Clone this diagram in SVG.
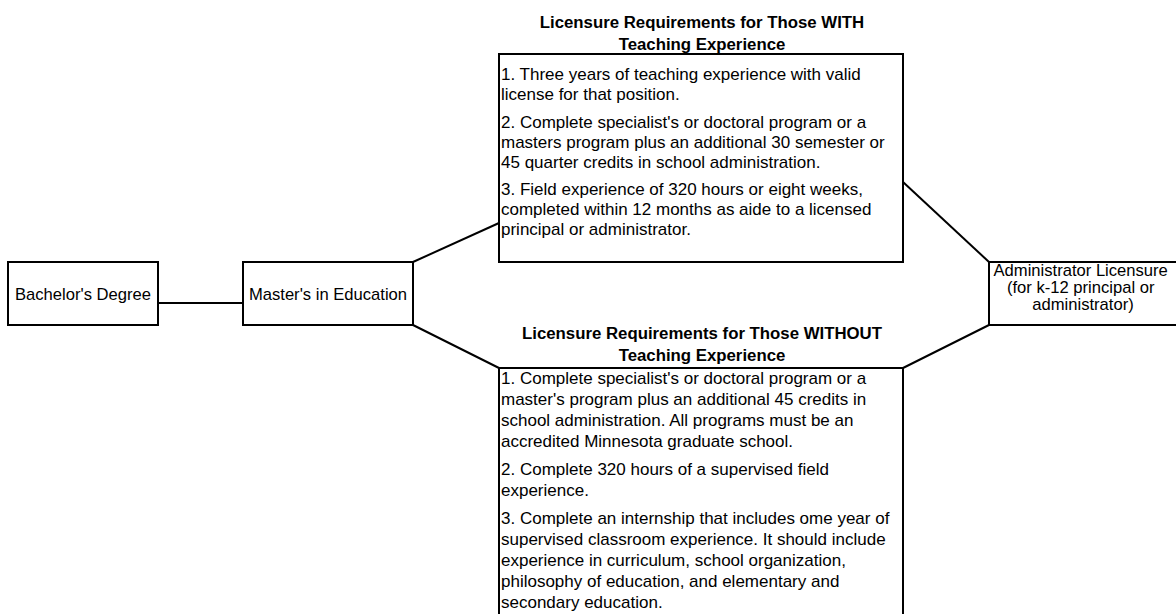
<svg xmlns="http://www.w3.org/2000/svg" width="1176" height="614" viewBox="0 0 1176 614">
  <style>
    .box { fill: #ffffff; stroke: #000000; stroke-width: 2; }
    .link { stroke: #000000; stroke-width: 2; fill: none; }
    text { font-family: "Liberation Sans", Arial, sans-serif; fill: #000000; }
    .label { font-size: 16.6px; }
    .body { font-size: 17px; }
    .mid { text-anchor: middle; }
    .title { font-size: 16.8px; font-weight: bold; text-anchor: middle; }
  </style>
  <rect width="1176" height="614" fill="#ffffff"/>

  <!-- connectors -->
  <g id="connectors">
    <line class="link" x1="158" y1="303" x2="243" y2="303"/>
    <line class="link" x1="413" y1="262" x2="499" y2="223"/>
    <line class="link" x1="413" y1="325" x2="499" y2="368"/>
    <line class="link" x1="903" y1="182" x2="989" y2="262"/>
    <line class="link" x1="989" y1="325" x2="903" y2="368"/>
  </g>

  <g id="bachelors">
    <rect class="box" x="8" y="262" width="150" height="63"/>
    <text class="label mid" x="83" y="300">Bachelor's Degree</text>
  </g>

  <g id="masters">
    <rect class="box" x="243" y="262" width="170" height="63"/>
    <text class="label mid" x="328" y="300">Master's in Education</text>
  </g>

  <g id="with-experience">
    <text class="title" x="702" y="28">Licensure Requirements for Those WITH</text>
    <text class="title" x="702" y="50">Teaching Experience</text>
    <rect class="box" x="499" y="54" width="404" height="208"/>
    <text class="body">
      <tspan x="501" y="80">1. Three years of teaching experience with valid</tspan>
      <tspan x="501" y="100">license for that position.</tspan>
      <tspan x="501" y="128">2. Complete specialist's or doctoral program or a</tspan>
      <tspan x="501" y="148">masters program plus an additional 30 semester or</tspan>
      <tspan x="501" y="168">45 quarter credits in school administration.</tspan>
      <tspan x="501" y="195">3. Field experience of 320 hours or eight weeks,</tspan>
      <tspan x="501" y="215">completed within 12 months as aide to a licensed</tspan>
      <tspan x="501" y="235">principal or administrator.</tspan>
    </text>
  </g>

  <g id="without-experience">
    <text class="title" x="702" y="339">Licensure Requirements for Those WITHOUT</text>
    <text class="title" x="702" y="361">Teaching Experience</text>
    <rect class="box" x="499" y="368" width="404" height="260"/>
    <text class="body">
      <tspan x="501" y="384">1. Complete specialist's or doctoral program or a</tspan>
      <tspan x="501" y="405">master's program plus an additional 45 credits in</tspan>
      <tspan x="501" y="426">school administration. All programs must be an</tspan>
      <tspan x="501" y="447">accredited Minnesota graduate school.</tspan>
      <tspan x="501" y="475">2. Complete 320 hours of a supervised field</tspan>
      <tspan x="501" y="496">experience.</tspan>
      <tspan x="501" y="524">3. Complete an internship that includes ome year of</tspan>
      <tspan x="501" y="545">supervised classroom experience. It should include</tspan>
      <tspan x="501" y="566">experience in curriculum, school organization,</tspan>
      <tspan x="501" y="587">philosophy of education, and elementary and</tspan>
      <tspan x="501" y="608">secondary education.</tspan>
    </text>
  </g>

  <g id="administrator">
    <rect class="box" x="989" y="262" width="190" height="63"/>
    <text class="label mid">
      <tspan x="1083" y="276">Administrator Licensure</tspan>
      <tspan x="1083" y="293">(for k-12 principal or</tspan>
      <tspan x="1083" y="310">administrator)</tspan>
    </text>
  </g>
</svg>
